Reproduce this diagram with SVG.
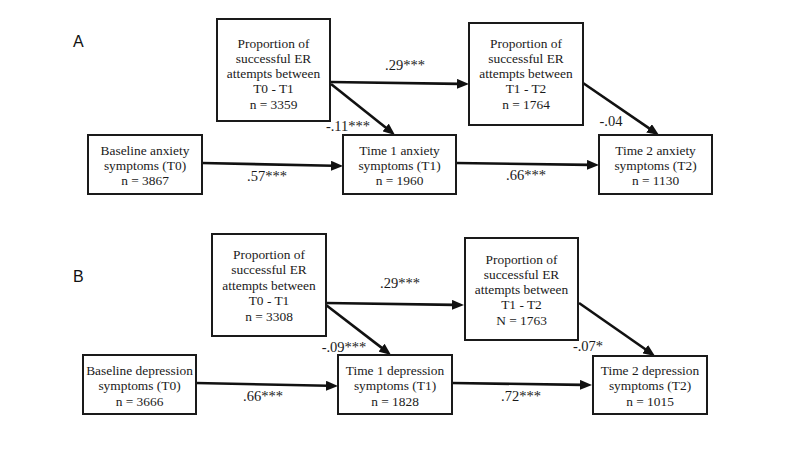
<svg xmlns="http://www.w3.org/2000/svg" width="800" height="450" viewBox="0 0 800 450">
<style>
.box{fill:#fff;stroke:#1a1a1a;stroke-width:2}
.t{font-family:"Liberation Serif","Times New Roman",serif;font-size:13.4px;fill:#1a1a1a;text-anchor:middle}
.lab{font-family:"Liberation Serif","Times New Roman",serif;font-size:14.5px;fill:#1a1a1a;text-anchor:middle}
.pan{font-family:"Liberation Sans",Arial,sans-serif;font-size:16px;fill:#111}
.c{stroke:#111;stroke-width:2.6;fill:none;marker-end:url(#ah)}
</style>
<defs>
<marker id="ah" viewBox="0 0 12 10" refX="2" refY="5" markerWidth="12" markerHeight="10" markerUnits="userSpaceOnUse" orient="auto">
<path d="M0,0 L12,5 L0,10 z" fill="#111"/>
</marker>
</defs>
<rect width="800" height="450" fill="#fff"/>
<text class="pan" x="73" y="47">A</text>
<text class="pan" x="73" y="282">B</text>
<g id="connectors">
<line class="c" x1="330" y1="82" x2="459" y2="83.9"/>
<line class="c" x1="331" y1="84" x2="387.2" y2="128.8"/>
<line class="c" x1="583" y1="83" x2="650.7" y2="129.4"/>
<line class="c" x1="202" y1="163" x2="333" y2="165.8"/>
<line class="c" x1="456" y1="163" x2="589" y2="164.9"/>
<line class="c" x1="326" y1="303" x2="454" y2="304.9"/>
<line class="c" x1="326" y1="305" x2="383.1" y2="348.9"/>
<line class="c" x1="579" y1="303" x2="646.8" y2="350.3"/>
<line class="c" x1="196" y1="383" x2="328" y2="385.8"/>
<line class="c" x1="452" y1="383" x2="582" y2="384.9"/>
</g>
<g id="labels">
<text class="lab" x="405" y="70">.29***</text>
<text class="lab" x="348" y="131">-.11***</text>
<text class="lab" x="267" y="181">.57***</text>
<text class="lab" x="526" y="180">.66***</text>
<text class="lab" x="611" y="126">-.04</text>
<text class="lab" x="400" y="288">.29***</text>
<text class="lab" x="344" y="352">-.09***</text>
<text class="lab" x="263" y="401">.66***</text>
<text class="lab" x="521" y="401">.72***</text>
<text class="lab" x="588" y="351">-.07*</text>
</g>
<g id="a_er01">
<rect class="box" x="217" y="19" width="113" height="102"/>
<text class="t" x="273.5" y="47.5">Proportion of</text>
<text class="t" x="273.5" y="62.8">successful ER</text>
<text class="t" x="273.5" y="78">attempts between</text>
<text class="t" x="273.5" y="93.3">T0 - T1</text>
<text class="t" x="273.5" y="108.5">n = 3359</text>
</g>
<g id="a_er12">
<rect class="box" x="469" y="23" width="114" height="102"/>
<text class="t" x="526" y="47.5">Proportion of</text>
<text class="t" x="526" y="62.8">successful ER</text>
<text class="t" x="526" y="78">attempts between</text>
<text class="t" x="526" y="93.3">T1 - T2</text>
<text class="t" x="526" y="108.5">n = 1764</text>
</g>
<g id="a_t0">
<rect class="box" x="88" y="135" width="114" height="59"/>
<text class="t" x="145" y="154.5">Baseline anxiety</text>
<text class="t" x="145" y="169.5">symptoms (T0)</text>
<text class="t" x="145" y="184.5">n = 3867</text>
</g>
<g id="a_t1">
<rect class="box" x="343" y="135" width="113" height="59"/>
<text class="t" x="399.5" y="154.5">Time 1 anxiety</text>
<text class="t" x="399.5" y="169.5">symptoms (T1)</text>
<text class="t" x="399.5" y="184.5">n = 1960</text>
</g>
<g id="a_t2">
<rect class="box" x="599" y="135" width="113" height="59"/>
<text class="t" x="655.5" y="154.5">Time 2 anxiety</text>
<text class="t" x="655.5" y="169.5">symptoms (T2)</text>
<text class="t" x="655.5" y="184.5">n = 1130</text>
</g>
<g id="b_er01">
<rect class="box" x="212" y="234" width="114" height="102"/>
<text class="t" x="269" y="258.5">Proportion of</text>
<text class="t" x="269" y="274">successful ER</text>
<text class="t" x="269" y="289.5">attempts between</text>
<text class="t" x="269" y="305">T0 - T1</text>
<text class="t" x="269" y="320.5">n = 3308</text>
</g>
<g id="b_er12">
<rect class="box" x="465" y="238" width="113" height="102"/>
<text class="t" x="521.5" y="263.5">Proportion of</text>
<text class="t" x="521.5" y="278.8">successful ER</text>
<text class="t" x="521.5" y="294">attempts between</text>
<text class="t" x="521.5" y="309.3">T1 - T2</text>
<text class="t" x="521.5" y="324.5">N = 1763</text>
</g>
<g id="b_t0">
<rect class="box" x="83" y="355" width="113" height="59"/>
<text class="t" x="139.5" y="374.5">Baseline depression</text>
<text class="t" x="139.5" y="390">symptoms (T0)</text>
<text class="t" x="139.5" y="405.5">n = 3666</text>
</g>
<g id="b_t1">
<rect class="box" x="338" y="355" width="114" height="59"/>
<text class="t" x="395" y="374.5">Time 1 depression</text>
<text class="t" x="395" y="390">symptoms (T1)</text>
<text class="t" x="395" y="405.5">n = 1828</text>
</g>
<g id="b_t2">
<rect class="box" x="593" y="356" width="114" height="58"/>
<text class="t" x="650" y="374.5">Time 2 depression</text>
<text class="t" x="650" y="390">symptoms (T2)</text>
<text class="t" x="650" y="405.5">n = 1015</text>
</g>
</svg>
